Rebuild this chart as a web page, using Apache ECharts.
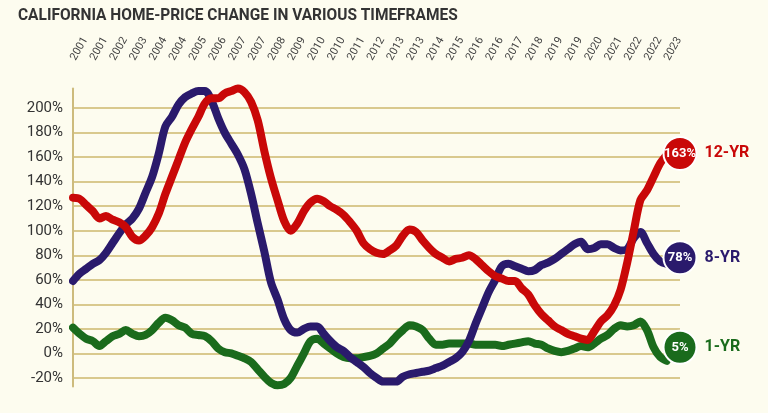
<!DOCTYPE html>
<html>
<head>
<meta charset="utf-8">
<script src="https://cdn.jsdelivr.net/npm/echarts@6/dist/echarts.min.js"></script>
<style>
html,body{margin:0;padding:0;background:#fdfcef;}
#chart{width:768px;height:413px;}
</style>
</head>
<body>
<div id="chart"></div>
<script>
// Tick labels shown every third quarter (every 9 months)
const tickLabels = ['2001','2001','2002','2003','2004','2004','2005','2006','2007','2007','2008','2009','2010','2010','2011','2012','2013','2013','2014','2015','2016','2016','2017','2018','2019','2019','2020','2021','2022','2022','2023'];

// Quarterly values (2001 Q1 .. 2023 Q3), % change
const yr12 = [127,126,121,116,110,112,109,107,103,95,92,96,103,114,130,144,158,172,183,193,204,208,208,212,214,216,213,205,190,165,143,125,108,100,106,116,123,126,124,120,117,113,107,100,90,85,82,81,84,88,96,101,99,92,86,81,78,75,77,78,80,77,72,67,63,61,59,59,53,48,39,32,27,22,19,16,14,12,11,18,26,31,39,52,74,100,125,133,144,155,162];
const yr8 = [59,65,69,73,76,82,90,98,105,110,118,131,144,163,185,193,203,209,212,214,214,206,192,180,171,162,150,130,106,83,58,44,28,19,17,20,22,22,16,10,5,2,-3,-7,-11,-16,-20,-23,-23,-23,-19,-17,-16,-15,-14,-12,-10,-7,-4,1,10,24,37,50,60,71,73,71,69,67,68,72,74,77,81,85,89,91,85,86,89,89,86,84,85,94,99,90,81,75,73];
const yr1 = [21,16,12,10,6,10,14,16,19,16,14,15,19,25,29,27,23,21,16,15,14,10,4,1,0,-2,-4,-7,-13,-19,-24,-26,-25,-20,-10,0,10,12,8,4,0,-3,-4,-4,-3,-2,0,4,8,14,19,23,22,19,12,7,7,8,8,8,8,7,7,7,7,6,7,8,9,10,8,7,4,2,1,2,4,6,5,8,12,15,20,23,22,23,26,19,5,-3,-6];

// Latest values and names shown at the right
const seriesNames = ['12-YR','8-YR','1-YR'];
const latestValues = [163, 78, 5];
const seriesColors = ['#c90808','#2a1a6c','#1a6b1c'];
const yTicks = [-20,0,20,40,60,80,100,120,140,160,180,200];
const titleText = 'CALIFORNIA HOME-PRICE CHANGE IN VARIOUS TIMEFRAMES';

// quarterly categories, two extra quarters at the right for the end markers
const quarters = [];
for (let i = 0; i < 93; i++) quarters.push((2001 + Math.floor(i / 4)) + ' Q' + (i % 4 + 1));
const lastCat = quarters[quarters.length - 1];

const chart = echarts.init(document.getElementById('chart'));
const lineSeries = (data, color, z) => ({
  type: 'line', data: data, showSymbol: false, symbol: 'none', smooth: 0.3, clip: false, z: z,
  lineStyle: { color: color, width: 8, cap: 'round', join: 'round' }
});

chart.setOption({
  backgroundColor: '#fdfcef',
  animation: false,
  graphic: [{
    type: 'text', x: 18, y: 7, scaleX: 0.91, z: 10,
    style: { text: titleText, fill: '#333', font: 'bold 17px Roboto, sans-serif', textVerticalAlign: 'top' }
  }],
  grid: { left: 73, right: 88, top: 88.5, bottom: 26.5, containLabel: false },
  xAxis: {
    type: 'category', data: quarters, boundaryGap: false, position: 'top',
    axisLine: { show: false }, axisTick: { show: false }, splitLine: { show: false },
    axisLabel: {
      interval: 2, rotate: 60, margin: 29, fontSize: 11, color: '#444',
      fontFamily: 'Roboto, sans-serif',
      formatter: (v, idx) => (idx % 3 === 0 && tickLabels[idx / 3]) ? tickLabels[idx / 3] : ''
    }
  },
  yAxis: {
    type: 'value', min: -27, max: 216,
    axisLine: { show: true, lineStyle: { color: '#cdbb7c', width: 2 } },
    axisTick: { show: false, customValues: yTicks },
    axisLabel: { customValues: yTicks, formatter: '{value}%', fontSize: 15, color: '#333', margin: 10, fontFamily: 'Roboto, sans-serif' },
    splitLine: { show: true, lineStyle: { color: '#d9c98e', width: 2 } }
  },
  series: [
    lineSeries(yr1, seriesColors[2], 2),
    lineSeries(yr8, seriesColors[1], 3),
    lineSeries(yr12, seriesColors[0], 4),
    {
      type: 'scatter', z: 5, symbol: 'circle', symbolSize: 33,
      data: latestValues.map((v, i) => ({ value: [lastCat, v], itemStyle: { color: seriesColors[i], opacity: 1, borderColor: '#ffffff', borderWidth: 2 } })),
      label: { show: true, position: 'inside', color: '#fff', fontWeight: 'bold', fontSize: 13, fontFamily: 'Roboto, sans-serif',
        formatter: p => p.value[1] + '%' }
    },
    {
      type: 'scatter', z: 5, symbol: 'circle', symbolSize: 1, itemStyle: { color: 'rgba(0,0,0,0)', opacity: 1 },
      data: latestValues.map((v, i) => ({ name: seriesNames[i], value: [lastCat, v], label: { color: seriesColors[i], fontWeight: 'bold', opacity: 1 } })),
      label: { show: true, position: 'right', distance: 24, fontWeight: 'bold', fontSize: 16, fontFamily: 'Roboto, sans-serif',
        formatter: p => p.name }
    }
  ]
});
</script>
</body>
</html>
